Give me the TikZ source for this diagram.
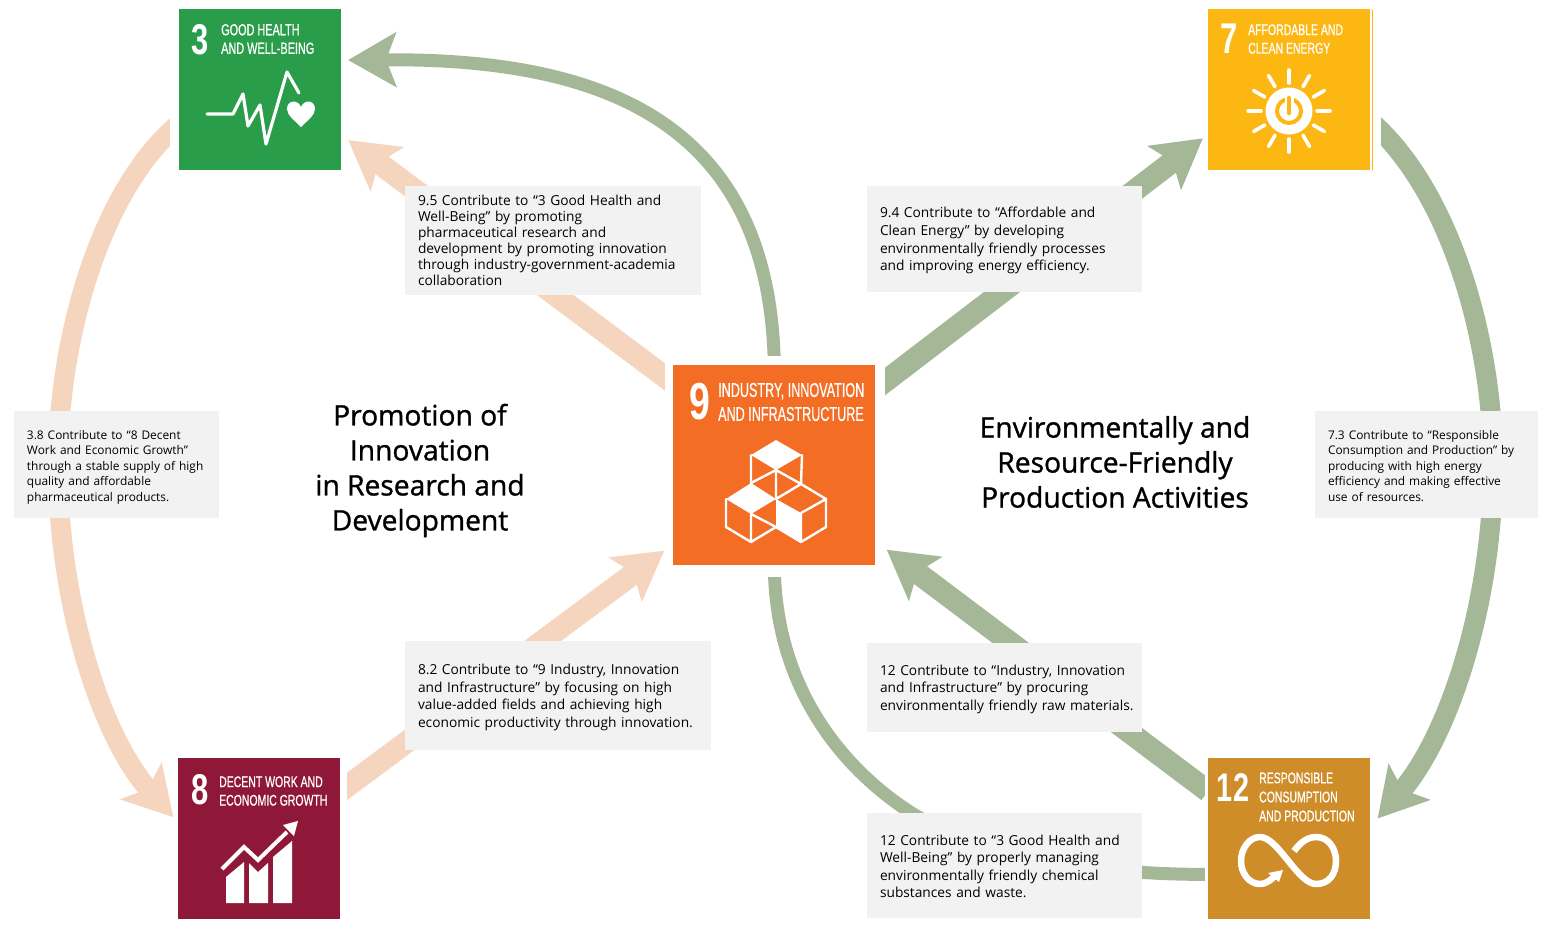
\documentclass[tikz,border=0pt]{standalone}
\usepackage{fontspec}
\usepackage{pgf,tikz}
\usetikzlibrary{arrows.meta,backgrounds}
\setmainfont{Open Sans}
\newfontfamily\tilefont[FakeStretch=0.68,FakeBold=0.6]{Liberation Sans}
\newfontfamily\tilenarrow[FakeStretch=0.63,FakeBold=0.6]{Liberation Sans}
\newfontfamily\numfont[FakeStretch=0.72]{Liberation Sans}
\newfontfamily\headfont[FakeBold=1.1]{Open Sans}
\newcommand{\lowline}[1]{\rule{0pt}{#1pt}}
\definecolor{peach}{HTML}{F6D5BF}
\definecolor{sage}{HTML}{A4B898}
\definecolor{boxgray}{HTML}{F2F2F2}
\definecolor{sdggreen}{HTML}{2A9D4A}
\definecolor{sdgyellow}{HTML}{FDB713}
\definecolor{sdgred}{HTML}{8F1838}
\definecolor{sdgorange}{HTML}{F36D25}
\definecolor{sdgbrown}{HTML}{CF8D2A}
\tikzset{
  tile/.style={rectangle,inner sep=0pt,minimum width=162pt,minimum height=161pt},
  numtext/.style={text=white,inner sep=0pt},
  titletext/.style={text=white,inner sep=0pt,anchor=west,align=left},
  note/.style={rectangle,fill=boxgray,inner sep=0pt,align=left,font=\fontsize{13.75}{16}\selectfont},
  widenote/.style={note,font=\fontsize{13.75}{17.6}\selectfont},
  smallnote/.style={note,font=\fontsize{11.9}{15.5}\selectfont},
  heading/.style={align=center,inner sep=0pt,font=\fontsize{28.2}{35}\headfont},
  bighead/.style={-{Stealth[length=48pt,width=54pt,inset=10pt]}},
  thinarc/.style={line width=13pt},
  sidearc/.style={line width=20pt},
  blockline/.style={line width=22pt},
  icon/.style={white,line width=3.2pt}
}
\begin{document}
\begin{tikzpicture}[line cap=round,line join=round,x=1.0pt,y=-1.0pt]
\useasboundingbox (0,0) rectangle (1550,930);
\node[tile,fill=sdggreen] (tile3) at (259.8,89.7) {};
\node[tile,fill=sdgyellow] (tile7) at (1288.8,89.7) {};
\node[tile,fill=sdgred] (tile8) at (259.2,838.2) {};
\node[tile,fill=sdgorange,minimum width=202pt,minimum height=200pt] (tile9) at (774.3,465) {};
\node[tile,fill=sdgbrown] (tile12) at (1289.2,838.2) {};
\draw[sdgyellow,line width=1pt] (1372,10) -- (1372,170);
% arrows go under the tiles
\begin{pgfonlayer}{background}
\draw[sage,thinarc,bighead,shorten >=7pt] (tile9.north) .. controls (770,120) and (600,58) .. (tile3.20);
\draw[peach,blockline,bighead,shorten >=9pt] (tile9.141.6) -- (tile3.-29);
\draw[sage,blockline,bighead,shorten >=6pt] (tile9.37) -- (tile7.209.6);
\draw[peach,blockline,bighead,shorten >=11pt] (tile8.30) -- (tile9.218.7);
\draw[sage,blockline,bighead,shorten >=14pt] (tile12.150.4) -- (tile9.-37.6);
\draw[sage,thinarc] (tile12.204.6) .. controls (1080,875) and (970,850) .. (910,812) .. controls (845,770) and (775,690) .. (tile9.south);
\draw[peach,sidearc,bighead,shorten >=7pt] (tile3.203) .. controls (100,190) and (58,340) .. (58,465) .. controls (58,600) and (100,735) .. (tile8.169.5);
\draw[sage,sidearc,bighead,shorten >=11pt] (tile7.-21.5) .. controls (1450,190) and (1493,340) .. (1493,465) .. controls (1493,600) and (1450,735) .. (tile12.8);
\fill[white] (665,356) rectangle (885,577);
\fill[white] (170,10) rectangle (340,170);
\fill[white] (179,758) rectangle (347,918);
\fill[white] (1208,10) rectangle (1381,170);
\fill[white] (1205,758) rectangle (1370,918);
\end{pgfonlayer}
% tile texts
\node[numtext,font=\fontsize{43}{43}\numfont\bfseries] (num3) at (200,39.5) {3};
\node[titletext,font=\fontsize{16}{18.5}\tilefont] (title3) at (221,39) {GOOD HEALTH\\AND WELL-BEING};
\node[numtext,font=\fontsize{43}{43}\numfont\bfseries] (num7) at (1229,39) {7};
\node[titletext,font=\fontsize{15.4}{18.5}\tilefont] (title7) at (1248,39) {AFFORDABLE AND\\CLEAN ENERGY};
\node[numtext,font=\fontsize{43}{43}\numfont\bfseries] (num8) at (200,790) {8};
\node[titletext,font=\fontsize{15.4}{18.5}\tilefont] (title8) at (219,791) {DECENT WORK AND\\ECONOMIC GROWTH};
\node[numtext,font=\fontsize{52}{52}\numfont\bfseries] (num9) at (700,402) {9};
\node[titletext,font=\fontsize{20}{24}\tilenarrow] (title9) at (718,402) {INDUSTRY, INNOVATION\\AND INFRASTRUCTURE};
\node[numtext,font=\fontsize{40}{40}\numfont\bfseries] (num12) at (1233,788) {12};
\node[titletext,font=\fontsize{15.4}{19}\tilefont] (title12) at (1259,797) {RESPONSIBLE\\CONSUMPTION\\AND PRODUCTION};
% icons
\draw[icon] (207,114) -- (233,114) -- (243,94) -- (248,126) -- (260,105) -- (266,144) -- (287,72) -- (299,93);
\fill[white] (301,127) .. controls (294,120) and (287,115) .. (287,109) .. controls (287,100) and (298,99) .. (301,107) .. controls (304,99) and (315,100) .. (315,109) .. controls (315,115) and (308,120) .. (301,127) -- cycle;
\foreach \a in {0,30,...,330}
  \draw[white,line width=3.6pt] (1289,111) ++(\a:28pt) -- ++(\a:13pt);
\fill[white] (1289,111) circle (23.5pt);
\draw[sdgyellow,line width=4pt] (1289,111) circle (12pt);
\draw[white,line width=9pt,line cap=butt] (1289,92) -- (1289,106);
\draw[sdgyellow,line width=4.5pt] (1289,98) -- (1289,113);
\fill[white] (226,877) -- (244,862) -- (244,903) -- (226,903) -- cycle;
\fill[white] (249,863) -- (258,872) -- (268,863) -- (268,903) -- (249,903) -- cycle;
\fill[white] (273,857) -- (292,841) -- (292,903) -- (273,903) -- cycle;
\draw[white,line width=4pt,line cap=butt,line join=miter] (222,869) -- (244,847) -- (258,860) -- (287,832);
\fill[white] (298,821) -- (283,825) -- (294,836) -- cycle;
\fill[white] (776,440) -- (802,455) -- (776,470) -- (751,455) -- cycle;
\fill[white] (751,483) -- (776,499) -- (751,514) -- (726,499) -- cycle;
\fill[white] (776,499) -- (801,513) -- (801,542) -- (776,527) -- cycle;
\draw[white,line width=2.4pt] (751,455) -- (751,483) -- (776,470) -- (801,484) -- (802,455) (776,470) -- (776,499) -- (801,484) -- (826,499) -- (826,527) -- (801,542) -- (776,527) -- (751,542) -- (726,527) -- (726,499) (801,513) -- (826,499) (801,513) -- (801,542) (751,514) -- (751,542) (751,514) -- (776,527);
\draw[white,line width=6.5pt,line cap=butt] (1294,851) .. controls (1300,843) and (1307,837) .. (1316,837) .. controls (1329,837) and (1336,849) .. (1336,861) .. controls (1336,874) and (1329,884) .. (1316,884) .. controls (1298,884) and (1278,837) .. (1260,837) .. controls (1249,837) and (1241,849) .. (1241,861) .. controls (1241,873) and (1249,884) .. (1260,884) .. controls (1266,884) and (1271,880) .. (1276,875);
\fill[white] (1283,870) -- (1268,873) -- (1279,882) -- cycle;
% notes
\node[note,minimum width=296pt,minimum height=109pt,text width=270pt] (note95) at (553,240.5) {9.5 Contribute to “3 Good Health and\\Well-Being” by promoting\\pharmaceutical research and\\development by promoting innovation\\through industry-government-academia\\collaboration};
\node[widenote,minimum width=275pt,minimum height=106pt,text width=249pt] (note94) at (1004.5,239) {\lowline{14}9.4 Contribute to “Affordable and\\Clean Energy” by developing\\environmentally friendly processes\\and improving energy efficiency.};
\node[smallnote,minimum width=205pt,minimum height=107pt,text width=179pt] (note38) at (116.5,464.5) {\lowline{14}3.8 Contribute to “8 Decent\\Work and Economic Growth”\\through a stable supply of high\\quality and affordable\\pharmaceutical products.};
\node[smallnote,minimum width=223pt,minimum height=107pt,text width=197pt] (note73) at (1426.5,464.5) {\lowline{12}7.3 Contribute to “Responsible\\Consumption and Production” by\\producing with high energy\\efficiency and making effective\\use of resources.};
\node[widenote,minimum width=306pt,minimum height=109pt,text width=280pt] (note82) at (558,695.5) {\lowline{14}8.2 Contribute to “9 Industry, Innovation\\and Infrastructure” by focusing on high\\value-added fields and achieving high\\economic productivity through innovation.};
\node[widenote,minimum width=275pt,minimum height=89pt,text width=249pt] (note129) at (1004.5,687.5) {\lowline{14}\mbox{12 Contribute to “Industry, Innovation}\\and Infrastructure” by procuring\\\mbox{environmentally friendly raw materials.}};
\node[widenote,minimum width=275pt,minimum height=105pt,text width=249pt] (note123) at (1004.5,865.5) {\lowline{12}12 Contribute to “3 Good Health and\\Well-Being” by properly managing\\environmentally friendly chemical\\substances and waste.};
% headings
\node[heading] (headpromo) at (420,470.5) {Promotion of\\Innovation\\in Research and\\Development};
\node[heading] (headenv) at (1115,462) {Environmentally and\\Resource-Friendly\\Production Activities};
\end{tikzpicture}
\end{document}
